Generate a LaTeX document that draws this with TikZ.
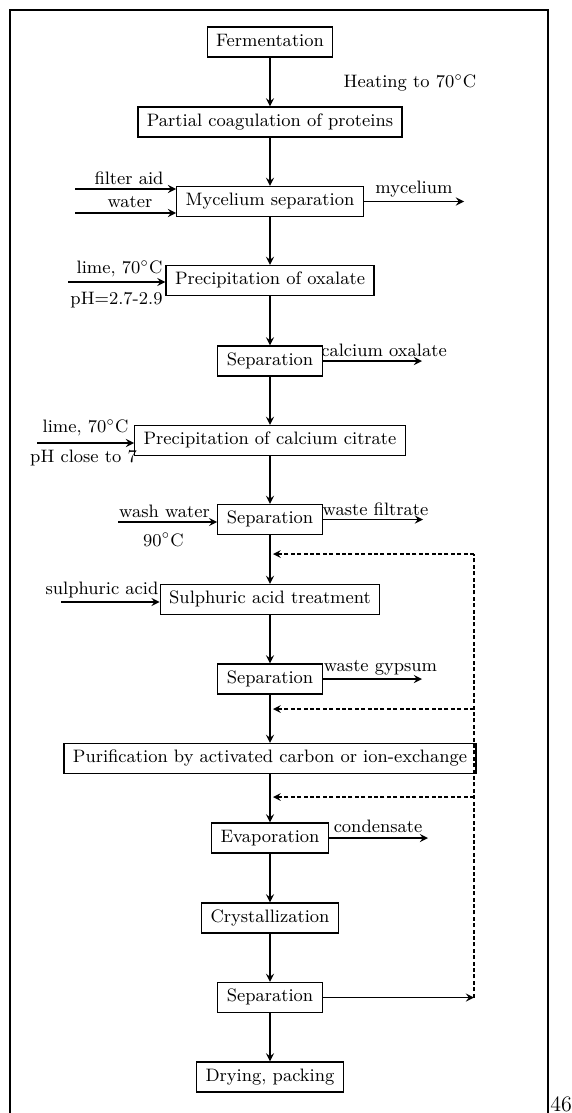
\documentclass[tikz,border=0pt]{standalone}
\usepackage{tikz}
\usetikzlibrary{arrows,positioning}

\begin{document}
\begin{tikzpicture}[
                x=0.5pt,y=-0.5pt,
                font=\fontsize{9pt}{11pt}\selectfont,
                stepbox/.style={rectangle,draw=black,line width=0.6pt,minimum height=15pt,inner xsep=4.5pt,inner ysep=0pt,text height=6.3pt,text depth=1.9pt},
                flow/.style={-stealth,line width=0.8pt},
                recycle/.style={dash pattern=on 2pt off 1.2pt,line width=0.7pt},
                tag/.style={inner sep=0pt},
            ]
                \useasboundingbox (0,0) rectangle (572,1113);
                \draw[line width=1pt] (10,1113) -- (10,10) -- (548,10) -- (548,1113);
                \node[tag,font=\fontsize{11pt}{13pt}\selectfont,anchor=base west] (page) at (550,1111) {46};

                \node[stepbox] (ferm) at (270,42) {Fermentation};
                \node[stepbox] (coag) at (270,122) {Partial coagulation of proteins};
                \node[stepbox] (myc) at (270,201.5) {Mycelium separation};
                \node[stepbox] (oxal) at (270,280.5) {Precipitation of oxalate};
                \node[stepbox] (sepa) at (270,361) {Separation};
                \node[stepbox] (citr) at (270,440.5) {Precipitation of calcium citrate};
                \node[stepbox] (sepb) at (270,519.5) {Separation};
                \node[stepbox] (sulph) at (270,599.5) {Sulphuric acid treatment};
                \node[stepbox] (sepc) at (270,679) {Separation};
                \node[stepbox] (puri) at (270,758.5) {Purification by activated carbon or ion-exchange};
                \node[stepbox] (evap) at (270,838) {Evaporation};
                \node[stepbox] (cryst) at (270,918) {Crystallization};
                \node[stepbox] (sepd) at (270,997.5) {Separation};
                \node[stepbox] (dry) at (270,1077) {Drying, packing};

                \node[tag] (heat) at (410,83) {Heating to 70$^\circ$C};
                \node[tag] (aid) at (129,178) {filter aid};
                \node[tag] (wat) at (130,202) {water};
                \node[tag] (mycl) at (414,189) {mycelium};
                \node[tag] (limea) at (119.5,269) {lime, 70$^\circ$C};
                \node[tag] (pha) at (116.5,300) {pH=2.7-2.9};
                \node[tag] (caox) at (384,350) {calcium oxalate};
                \node[tag] (limeb) at (85.5,428) {lime, 70$^\circ$C};
                \node[tag] (phb) at (83.5,458) {pH close to 7};
                \node[tag] (wash) at (164.5,511) {wash water};
                \node[tag] (hot) at (163.5,540) {90$^\circ$C};
                \node[tag] (filt) at (375.5,509) {waste filtrate};
                \node[tag] (acid) at (102,590) {sulphuric acid};
                \node[tag] (gyps) at (380.5,668) {waste gypsum};
                \node[tag] (cond) at (378,826) {condensate};

                % free ends of the side streams
                \coordinate (aidin) at (75,189);
                \coordinate (watin) at (75,213);
                \coordinate (mycout) at (464,201.5);
                \coordinate (limeain) at (68,282);
                \coordinate (caoxout) at (422,361);
                \coordinate (limebin) at (37,443);
                \coordinate (washin) at (118,522);
                \coordinate (filtout) at (423,519.5);
                \coordinate (acidin) at (61,602);
                \coordinate (gypsout) at (422,679);
                \coordinate (condout) at (428,838);

                % recycle loop
                \coordinate (rtop) at (474,554);
                \coordinate (rmida) at (474,709);
                \coordinate (rmidb) at (474,797);
                \coordinate (rbot) at (474,997.5);

                \draw[flow] (ferm) -- (coag);
                \draw[flow] (coag) -- (myc);
                \draw[flow] (myc) -- (oxal);
                \draw[flow] (oxal) -- (sepa);
                \draw[flow] (sepa) -- (citr);
                \draw[flow] (citr) -- (sepb);
                \draw[flow] (sepb) -- (sulph);
                \draw[flow] (sulph) -- (sepc);
                \draw[flow] (sepc) -- (puri);
                \draw[flow] (puri) -- (evap);
                \draw[flow] (evap) -- (cryst);
                \draw[flow] (cryst) -- (sepd);
                \draw[flow] (sepd) -- (dry);

                \draw[flow] (aidin) -- (myc.west |- aidin);
                \draw[flow] (watin) -- (myc.west |- watin);
                \draw[flow] (myc.east) -- (mycout);
                \draw[flow] (limeain) -- (oxal.west |- limeain);
                \draw[flow] (sepa.east) -- (caoxout);
                \draw[flow] (limebin) -- (citr.west |- limebin);
                \draw[flow] (washin) -- (sepb.west |- washin);
                \draw[flow] (sepb.east) -- (filtout);
                \draw[flow] (acidin) -- (sulph.west |- acidin);
                \draw[flow] (sepc.east) -- (gypsout);
                \draw[flow] (evap.east) -- (condout);

                \draw[flow] (sepd.east) -- (rbot);
                \draw[recycle] (rbot) -- (rtop);
                \draw[recycle,-stealth,shorten >=1.5pt] (rtop) -- (sepb.south |- rtop);
                \draw[recycle,-stealth,shorten >=1.5pt] (rmida) -- (sepc.south |- rmida);
                \draw[recycle,-stealth,shorten >=1.5pt] (rmidb) -- (puri.south |- rmidb);
            \end{tikzpicture}
\end{document}
